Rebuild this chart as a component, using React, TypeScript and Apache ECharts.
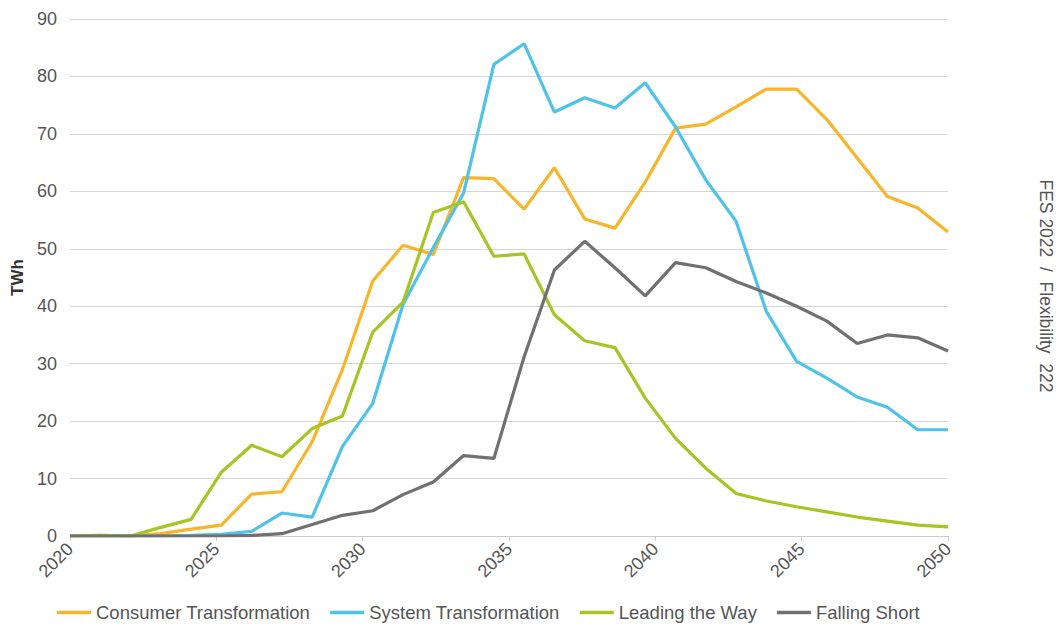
import React, { useEffect, useRef } from "react";
import * as echarts from "echarts";

const years = [
  "2021", "2022", "2023", "2024", "2025", "2026", "2027", "2028", "2029", "2030",
  "2031", "2032", "2033", "2034", "2035", "2036", "2037", "2038", "2039", "2040",
  "2041", "2042", "2043", "2044", "2045", "2046", "2047", "2048", "2049", "2050",
];

const consumerTransformation = [
  0, 0.1, 0, 0.4, 1.2, 1.9, 7.3, 7.7, 16.4, 29.0,
  44.4, 50.6, 49.0, 62.4, 62.2, 56.9, 64.1, 55.2, 53.6, 61.6,
  71.0, 71.7, 74.7, 77.8, 77.8, 72.5, 65.8, 59.1, 57.1, 52.9,
];

const systemTransformation = [
  0, 0, 0, 0, 0.1, 0.3, 0.8, 4.0, 3.3, 15.6,
  23.1, 40.3, 50.2, 59.7, 82.1, 85.7, 73.8, 76.3, 74.5, 78.9,
  71.2, 62.0, 54.8, 39.1, 30.4, 27.5, 24.2, 22.4, 18.5, 18.5,
];

const leadingTheWay = [
  0, 0.1, 0, 1.5, 2.9, 11.1, 15.8, 13.8, 18.7, 20.9,
  35.5, 40.7, 56.3, 58.2, 48.7, 49.1, 38.5, 34.0, 32.8, 24.0,
  17.0, 11.8, 7.4, 6.1, 5.1, 4.2, 3.3, 2.6, 1.9, 1.6,
];

const fallingShort = [
  0, 0, 0, 0, 0, 0, 0.1, 0.4, 2.0, 3.6,
  4.4, 7.2, 9.4, 14.0, 13.5, 31.2, 46.3, 51.3, 46.7, 41.8,
  47.6, 46.7, 44.3, 42.3, 40.0, 37.4, 33.5, 35.0, 34.5, 32.2,
];

const seriesNames = [
  "Consumer Transformation",
  "System Transformation",
  "Leading the Way",
  "Falling Short",
];
const seriesColors = ["#F9B52A", "#4FC2EA", "#A6C424", "#726F70"];
const seriesData = [consumerTransformation, systemTransformation, leadingTheWay, fallingShort];

const FONT = "'Liberation Sans', Arial, sans-serif";

export default function App() {
  const ref = useRef<HTMLDivElement>(null);

  useEffect(() => {
    if (!ref.current) return;
    const chart = echarts.init(ref.current, undefined, { renderer: "svg" });
    chart.setOption({
      animation: false,
      backgroundColor: "#ffffff",
      textStyle: { fontFamily: FONT },
      grid: { left: 70, right: 112, top: 19, bottom: 88, containLabel: false },
      legend: {
        left: 52,
        top: 598,
        itemWidth: 34,
        itemHeight: 12,
        itemGap: 20,
        data: seriesNames.map((n, i) => ({
          name: n,
          icon: "path://M0,4.5 L34,4.5 L34,8 L0,8 Z",
          itemStyle: { color: seriesColors[i] },
        })),
        textStyle: { fontSize: 18.5, color: "#555555", fontFamily: FONT },
      },
      xAxis: [
        {
          type: "value",
          min: 2020,
          max: 2050,
          interval: 5,
          position: "bottom",
          axisLine: { show: true, lineStyle: { color: "#cccccc", width: 1 } },
          axisTick: { show: true, length: 5, lineStyle: { color: "#cccccc" } },
          splitLine: { show: false },
          axisLabel: {
            rotate: 45,
            fontSize: 18,
            color: "#555555",
            margin: 10,
            fontFamily: FONT,
            formatter: (v: number) => String(v),
          },
        },
        {
          type: "category",
          data: years,
          boundaryGap: false,
          position: "top",
          show: false,
        },
      ],
      yAxis: {
        type: "value",
        min: 0,
        max: 90,
        interval: 10,
        name: "TWh",
        nameLocation: "middle",
        nameGap: 43,
        nameRotate: 90,
        nameTextStyle: { fontSize: 17, fontWeight: "bold", color: "#333333", fontFamily: FONT },
        axisLine: { show: false },
        axisTick: { show: false },
        axisLabel: { fontSize: 18, color: "#555555", margin: 13, fontFamily: FONT },
        splitLine: { show: true, lineStyle: { color: "#d6d6d6", width: 1 } },
      },
      series: seriesNames.map((n, i) => ({
        name: n,
        type: "line",
        xAxisIndex: 1,
        data: seriesData[i],
        symbol: "none",
        smooth: false,
        lineStyle: { color: seriesColors[i], width: 3.2 },
        itemStyle: { color: seriesColors[i] },
      })),
      graphic: [
        {
          type: "text",
          x: 1046,
          y: 286,
          rotation: -Math.PI / 2,
          style: {
            text: "FES 2022  /  Flexibility  222",
            fontSize: 17.5,
            fill: "#555555",
            fontFamily: FONT,
            align: "center",
            verticalAlign: "middle",
          },
        },
      ],
    });
    return () => chart.dispose();
  }, []);

  return (
    <div
      ref={ref}
      style={{ position: "absolute", left: 0, top: 0, width: 1060, height: 624 }}
    />
  );
}
